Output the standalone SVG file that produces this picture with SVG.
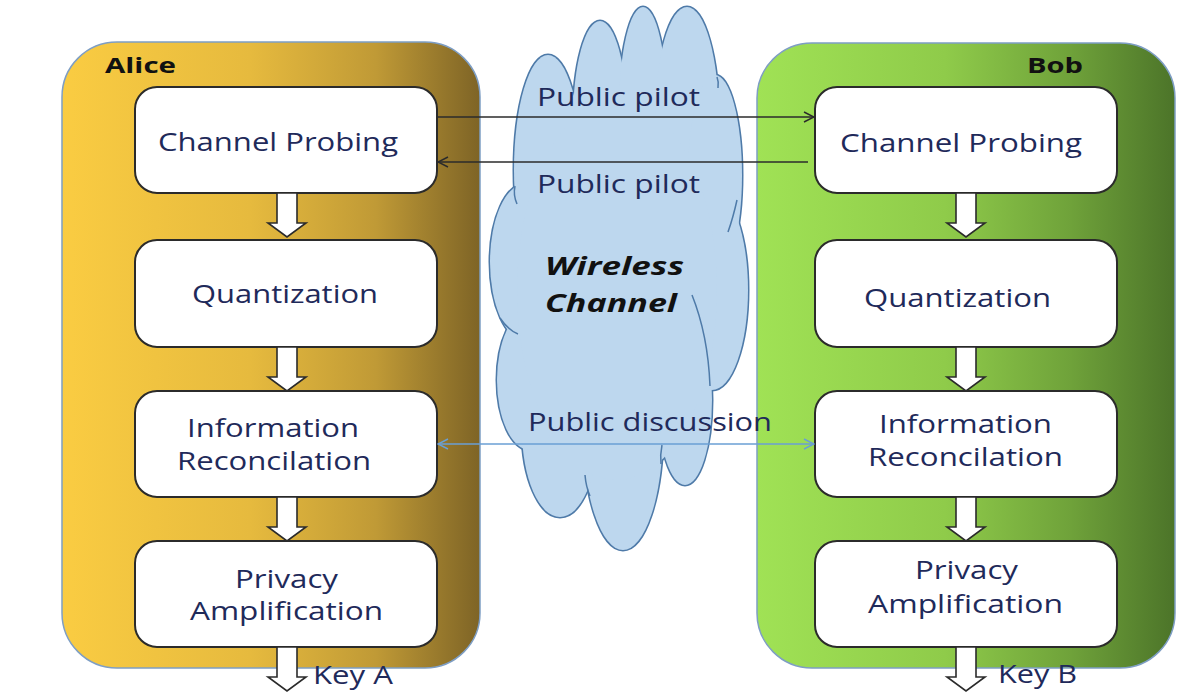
<svg xmlns="http://www.w3.org/2000/svg" xmlns:xlink="http://www.w3.org/1999/xlink" width="1200" height="695" viewBox="0 0 1200 695">
<style>
.container{stroke:#7E9EC4;stroke-width:1.5}
.box{fill:#FFFFFF;stroke:#2B2B2B;stroke-width:2}
.blk{fill:#FFFFFF;stroke:#2B2B2B;stroke-width:1.6;stroke-linejoin:miter}
.t{font-family:"Open Sans","DejaVu Sans",sans-serif;font-size:25px;fill:#1F2A5A}
.who{font-family:"Open Sans","DejaVu Sans",sans-serif;font-size:22px;font-weight:bold;fill:#111111}
.wc{font-family:"Open Sans","DejaVu Sans",sans-serif;font-size:25px;font-weight:bold;font-style:italic;fill:#111111}
.line{fill:none;stroke:#2B2B2B;stroke-width:1.5}
.disc{fill:none;stroke:#6A9FD4;stroke-width:1.5}
.inner{fill:none;stroke:#4E7AA8;stroke-width:1.5}
</style>
<defs>
<linearGradient id="gA" x1="0" y1="0" x2="1" y2="0">
<stop offset="0" stop-color="#FACC42"/>
<stop offset="0.45" stop-color="#E6BA3E"/>
<stop offset="0.75" stop-color="#C09A36"/>
<stop offset="1" stop-color="#7E6426"/>
</linearGradient>
<linearGradient id="gB" x1="0" y1="0" x2="1" y2="0">
<stop offset="0" stop-color="#A0E255"/>
<stop offset="0.45" stop-color="#8FCB4A"/>
<stop offset="0.75" stop-color="#6FA23A"/>
<stop offset="1" stop-color="#4C7429"/>
</linearGradient>
<path id="blkArrow" d="M-10,0 H10 V30 H19 L0,44 L-19,30 H-10 Z"/>
<marker id="ahBlack" viewBox="0 0 12 12" refX="11" refY="6" markerWidth="12" markerHeight="12" markerUnits="userSpaceOnUse" orient="auto-start-reverse">
<path d="M1,1 L11,6 L1,11" fill="none" stroke="#2B2B2B" stroke-width="1.5"/>
</marker>
<marker id="ahBlue" viewBox="0 0 12 12" refX="11" refY="6" markerWidth="12" markerHeight="12" markerUnits="userSpaceOnUse" orient="auto-start-reverse">
<path d="M1,1 L11,6 L1,11" fill="none" stroke="#6A9FD4" stroke-width="1.5"/>
</marker>
<g id="cloudShapes">
<ellipse cx="548" cy="170" rx="34" ry="115"/>
<ellipse cx="600" cy="120" rx="27" ry="99"/>
<ellipse cx="643" cy="110" rx="24" ry="103"/>
<ellipse cx="687" cy="120" rx="32" ry="113"/>
<ellipse cx="715" cy="175" rx="27" ry="100"/>
<ellipse cx="712" cy="290" rx="36" ry="100"/>
<ellipse cx="685" cy="400" rx="27" ry="85"/>
<ellipse cx="623" cy="430" rx="40" ry="120"/>
<ellipse cx="560" cy="430" rx="38" ry="87"/>
<ellipse cx="530" cy="380" rx="33" ry="70"/>
<ellipse cx="525" cy="262" rx="35" ry="78"/>
<ellipse cx="617" cy="290" rx="100" ry="190"/>
</g>
</defs>

<g id="alice">
<rect class="container" x="62" y="42" width="418" height="626" rx="55" fill="url(#gA)"/>
<text class="who" x="105" y="73" textLength="71" lengthAdjust="spacingAndGlyphs">Alice</text>
</g>
<g id="bob">
<rect class="container" x="757" y="43" width="418" height="625" rx="55" fill="url(#gB)"/>
<text class="who" x="1027" y="73" textLength="56" lengthAdjust="spacingAndGlyphs">Bob</text>
</g>

<g id="cloud">
<use xlink:href="#cloudShapes" fill="#BDD7EE" stroke="#4E7AA8" stroke-width="3"/>
<use xlink:href="#cloudShapes" fill="#BDD7EE" stroke="none"/>
<path class="inner" d="M515,186 Q513,195 517,204"/>
<path class="inner" d="M717,77 Q719,82 718,88"/>
<path class="inner" d="M737,200 Q733,218 728,232"/>
<path class="inner" d="M500,318 Q508,330 518,334"/>
<path class="inner" d="M692,295 Q708,335 710,386"/>
<path class="inner" d="M585,475 Q586,487 590,496"/>
<path class="inner" d="M662,445 Q660,455 661,464"/>
<text class="wc" x="545" y="275" textLength="139" lengthAdjust="spacingAndGlyphs">Wireless</text>
<text class="wc" x="545" y="312" textLength="132" lengthAdjust="spacingAndGlyphs">Channel</text>
</g>

<g id="a-probe">
<rect class="box" x="135" y="87" width="302" height="106" rx="22"/>
<text class="t" x="158" y="151" textLength="240" lengthAdjust="spacingAndGlyphs">Channel Probing</text>
</g>
<g id="a-quant">
<rect class="box" x="135" y="240" width="302" height="107" rx="22"/>
<text class="t" x="192" y="303" textLength="186" lengthAdjust="spacingAndGlyphs">Quantization</text>
</g>
<g id="a-rec">
<rect class="box" x="135" y="391" width="302" height="106" rx="22"/>
<text class="t" x="187" y="437" textLength="172" lengthAdjust="spacingAndGlyphs">Information</text>
<text class="t" x="177" y="470" textLength="194" lengthAdjust="spacingAndGlyphs">Reconcilation</text>
</g>
<g id="a-priv">
<rect class="box" x="135" y="541" width="302" height="106" rx="22"/>
<text class="t" x="235" y="588" textLength="103" lengthAdjust="spacingAndGlyphs">Privacy</text>
<text class="t" x="190" y="620" textLength="193" lengthAdjust="spacingAndGlyphs">Amplification</text>
</g>
<g id="a-key">
<text class="t" x="313" y="684" textLength="80" lengthAdjust="spacingAndGlyphs">Key A</text>
</g>

<g id="b-probe">
<rect class="box" x="815" y="87" width="302" height="106" rx="22"/>
<text class="t" x="840" y="152" textLength="242" lengthAdjust="spacingAndGlyphs">Channel Probing</text>
</g>
<g id="b-quant">
<rect class="box" x="815" y="240" width="302" height="107" rx="22"/>
<text class="t" x="864" y="307" textLength="187" lengthAdjust="spacingAndGlyphs">Quantization</text>
</g>
<g id="b-rec">
<rect class="box" x="815" y="391" width="302" height="106" rx="22"/>
<text class="t" x="879" y="433" textLength="173" lengthAdjust="spacingAndGlyphs">Information</text>
<text class="t" x="868" y="466" textLength="195" lengthAdjust="spacingAndGlyphs">Reconcilation</text>
</g>
<g id="b-priv">
<rect class="box" x="815" y="541" width="302" height="106" rx="22"/>
<text class="t" x="915" y="579" textLength="103" lengthAdjust="spacingAndGlyphs">Privacy</text>
<text class="t" x="868" y="613" textLength="195" lengthAdjust="spacingAndGlyphs">Amplification</text>
</g>
<g id="b-key">
<text class="t" x="998" y="683" textLength="79" lengthAdjust="spacingAndGlyphs">Key B</text>
</g>

<g id="connectors">
<use xlink:href="#blkArrow" class="blk" x="287" y="193"/>
<use xlink:href="#blkArrow" class="blk" x="287" y="347"/>
<use xlink:href="#blkArrow" class="blk" x="287" y="497"/>
<use xlink:href="#blkArrow" class="blk" x="287" y="647"/>
<use xlink:href="#blkArrow" class="blk" x="966" y="193"/>
<use xlink:href="#blkArrow" class="blk" x="966" y="347"/>
<use xlink:href="#blkArrow" class="blk" x="966" y="497"/>
<use xlink:href="#blkArrow" class="blk" x="966" y="647"/>
<path class="line" d="M438,117 H814" marker-end="url(#ahBlack)"/>
<path class="line" d="M808,162 H438" marker-end="url(#ahBlack)"/>
<path class="disc" d="M438,444 H814" marker-start="url(#ahBlue)" marker-end="url(#ahBlue)"/>
<text class="t" x="537" y="106" textLength="163" lengthAdjust="spacingAndGlyphs">Public pilot</text>
<text class="t" x="537" y="193" textLength="163" lengthAdjust="spacingAndGlyphs">Public pilot</text>
<text class="t" x="528" y="431" textLength="244" lengthAdjust="spacingAndGlyphs">Public discussion</text>
</g>
</svg>
